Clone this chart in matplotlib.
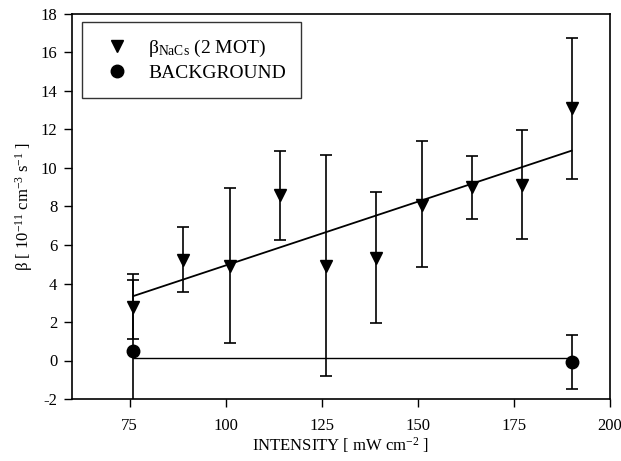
import matplotlib
matplotlib.use("Agg")
import matplotlib.pyplot as plt
import numpy as np

plt.rcParams['font.family'] = ['Liberation Serif', 'DejaVu Serif']
plt.rcParams['mathtext.fontset'] = 'custom'
plt.rcParams['mathtext.rm'] = 'Liberation Serif'
plt.rcParams['mathtext.it'] = 'Liberation Serif:italic'
plt.rcParams['mathtext.default'] = 'regular'
plt.rcParams['axes.unicode_minus'] = False

# Data
intensity = [76, 89, 101, 114, 126, 139, 151, 164, 177, 190]
beta = [2.8, 5.2, 4.9, 8.6, 4.9, 5.3, 8.1, 9.0, 9.1, 13.1]
beta_low = [1.1, 3.55, 0.9, 6.25, -0.8, 1.95, 4.85, 7.35, 6.3, 9.45]
beta_high = [4.5, 6.95, 8.95, 10.9, 10.7, 8.75, 11.4, 10.6, 11.95, 16.75]

fit_x = [76, 190]
fit_y = [3.35, 10.9]

bg_x = [76, 190]
bg_y = [0.5, -0.1]
bg_low = [-3.2, -1.5]
bg_high = [4.2, 1.3]
bg_fit_y = [0.15, 0.15]

fig = plt.figure(figsize=(6.21, 4.61), dpi=100)
ax = fig.add_axes([72/621, 62/461, 538/621, 385/461])

b = np.array(beta)
yerr = [b - np.array(beta_low), np.array(beta_high) - b]
ax.errorbar(intensity, beta, yerr=yerr, fmt='none', ecolor='black',
            elinewidth=1.2, capsize=4, capthick=1.2)
ax.plot(intensity, beta, 'v', color='black', markersize=9, linestyle='none',
        label=r'$\beta_{\rm NaCs}$ (2 MOT)')
bg = np.array(bg_y)
bg_err = [bg - np.array(bg_low), np.array(bg_high) - bg]
ax.errorbar(bg_x, bg_y, yerr=bg_err, fmt='none', ecolor='black',
            elinewidth=1.2, capsize=4, capthick=1.2)
ax.plot(bg_x, bg_y, 'o', color='black', markersize=9, linestyle='none',
        label='BACKGROUND')
ax.plot(fit_x, fit_y, color='black', lw=1.3)
ax.plot(bg_x, bg_fit_y, color='black', lw=1.0)

ax.set_xlim(60, 200)
ax.set_ylim(-2, 18)
ax.set_xticks([75, 100, 125, 150, 175, 200])
ax.set_yticks(list(range(-2, 19, 2)))
ax.tick_params(direction='out', length=5.5, width=1, labelsize=12, colors='black')
ax.tick_params(axis='y', pad=5)
ax.tick_params(axis='x', pad=8)
for s in ax.spines.values():
    s.set_linewidth(1.2)

ax.set_xlabel(r'INTENSITY [ mW cm$^{-2}$ ]', fontsize=12, labelpad=1)
ax.set_ylabel(r'$\beta$ [ 10$^{-11}$ cm$^{-3}$ s$^{-1}$ ]', fontsize=12)

leg = ax.legend(loc='upper left', fontsize=14, frameon=True, fancybox=False,
                edgecolor='black', borderpad=0.8, handletextpad=0.6,
                labelspacing=0.3, borderaxespad=0,
                bbox_to_anchor=(10/538, 1 - 8/385))
leg.get_frame().set_linewidth(1.0)

fig.savefig('out.png', dpi=100)
